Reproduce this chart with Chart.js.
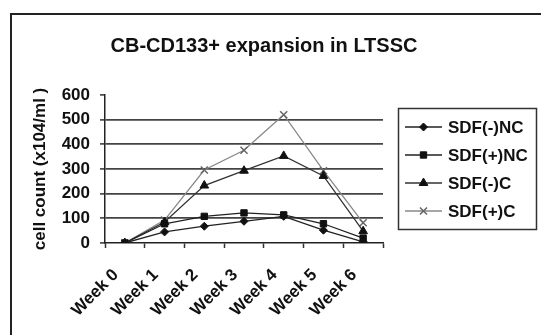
<!DOCTYPE html>
<html>
<head>
<meta charset="utf-8">
<script src="https://cdn.jsdelivr.net/npm/chart.js@4.4.1/dist/chart.umd.min.js"></script>
<style>
html,body{margin:0;padding:0;background:#fff;}
#wrap{width:541px;height:335px;}
</style>
</head>
<body>
<div id="wrap"><canvas id="c" width="541" height="335"></canvas></div>
<script>
const categories = ['Week 0','Week 1','Week 2','Week 3','Week 4','Week 5','Week 6'];
const sdfMinusNC = [0, 45, 68, 88, 108, 52, 5];
const sdfPlusNC  = [0, 78, 108, 122, 114, 78, 20];
const sdfMinusC  = [0, 85, 233, 293, 353, 272, 48];
const sdfPlusC   = [0, 93, 296, 376, 520, 293, 82];
const yTicks = [0, 100, 200, 300, 400, 500, 600];
const titleText = 'CB-CD133+ expansion in LTSSC';
const yTitle = 'cell count (x104/ml )';

const frameAndLegend = {
  id: 'frameAndLegend',
  afterDraw(chart) {
    const ctx = chart.ctx;
    ctx.save();
    ctx.strokeStyle = '#222';
    ctx.lineWidth = 2;
    ctx.strokeRect(11, 14, 545, 340);
    ctx.fillStyle = '#111';
    ctx.font = 'bold 20px Arial, "Liberation Sans", sans-serif';
    ctx.textAlign = 'center';
    ctx.textBaseline = 'middle';
    ctx.fillText(titleText, 264, 46);
    ctx.strokeStyle = '#333';
    ctx.lineWidth = 1.5;
    ctx.strokeRect(398.5, 108.5, 138, 121);
    ctx.font = 'bold 17px Arial, "Liberation Sans", sans-serif';
    ctx.textAlign = 'left';
    chart.data.datasets.forEach((ds, i) => {
      const y = 127 + i * 28;
      ctx.strokeStyle = ds.borderColor;
      ctx.lineWidth = ds.borderWidth;
      ctx.beginPath();
      ctx.moveTo(405, y);
      ctx.lineTo(442, y);
      ctx.stroke();
      if (Chart.helpers && Chart.helpers.drawPoint) {
        ctx.fillStyle = ds.pointBackgroundColor;
        ctx.strokeStyle = ds.pointBorderColor;
        ctx.lineWidth = ds.pointBorderWidth || 1;
        Chart.helpers.drawPoint(ctx, {
          pointStyle: ds.pointStyle,
          radius: ds.pointRadius,
          borderWidth: ds.pointBorderWidth || 1,
          rotation: 0
        }, 423.5, y);
      }
      ctx.fillStyle = '#111';
      ctx.fillText(ds.label, 448, y + 1);
    });
    ctx.restore();
  }
};

const datasets = [
  {label:'SDF(-)NC', data:sdfMinusNC, borderColor:'#222', pointBackgroundColor:'#111', pointBorderColor:'#111', pointStyle:'rectRot', pointRadius:4, borderWidth:1.3},
  {label:'SDF(+)NC', data:sdfPlusNC, borderColor:'#222', pointBackgroundColor:'#111', pointBorderColor:'#111', pointStyle:'rect', pointRadius:4.5, borderWidth:1.3},
  {label:'SDF(-)C', data:sdfMinusC, borderColor:'#333', pointBackgroundColor:'#111', pointBorderColor:'#111', pointStyle:'triangle', pointRadius:5, borderWidth:1.3},
  {label:'SDF(+)C', data:sdfPlusC, borderColor:'#888', pointBackgroundColor:'#666', pointBorderColor:'#666', pointStyle:'crossRot', pointRadius:5, pointBorderWidth:1.5, borderWidth:1.3}
];

new Chart(document.getElementById('c'), {
  type: 'line',
  data: {
    labels: categories,
    datasets: datasets.map(d => Object.assign({fill:false, tension:0, pointBorderWidth: d.pointBorderWidth || 1}, d))
  },
  options: {
    responsive: false,
    animation: false,
    layout: {padding: {left: 12, top: 95, right: 158, bottom: 0}},
    plugins: {
      legend: {display: false},
      title: {display: false},
      tooltip: {enabled: false}
    },
    scales: {
      x: {
        type: 'category',
        offset: true,
        grid: {offset: true, color: 'transparent', tickColor: '#333', tickLength: 5, tickWidth: 1.5, drawOnChartArea: false},
        border: {color: '#222', width: 1.5},
        ticks: {
          maxRotation: 45, minRotation: 45, autoSkip: false, padding: 17, labelOffset: -9,
          color: '#111',
          font: {family: 'Arial, "Liberation Sans", sans-serif', size: 17, weight: 'bold'}
        },
        afterFit(scale) { scale.height = 92; }
      },
      y: {
        min: 0, max: 600,
        afterBuildTicks(scale) { scale.ticks = yTicks.map(v => ({value: v})); },
        grid: {
          color: c => (c.tick && (c.tick.value === 600 || c.tick.value === 0)) ? 'rgba(0,0,0,0)' : '#444',
          lineWidth: 1.8,
          tickColor: '#333', tickLength: 5, tickWidth: 1.5
        },
        border: {color: '#222', width: 1.5},
        ticks: {
          padding: 10, color: '#111',
          font: {family: 'Arial, "Liberation Sans", sans-serif', size: 17, weight: 'bold'}
        },
        title: {
          display: true, text: yTitle, color: '#111',
          padding: {top: 18, bottom: 0},
          font: {family: 'Arial, "Liberation Sans", sans-serif', size: 17, weight: 'bold'}
        },
        afterFit(scale) { scale.width = 93; }
      }
    }
  },
  plugins: [frameAndLegend]
});
</script>
</body>
</html>
